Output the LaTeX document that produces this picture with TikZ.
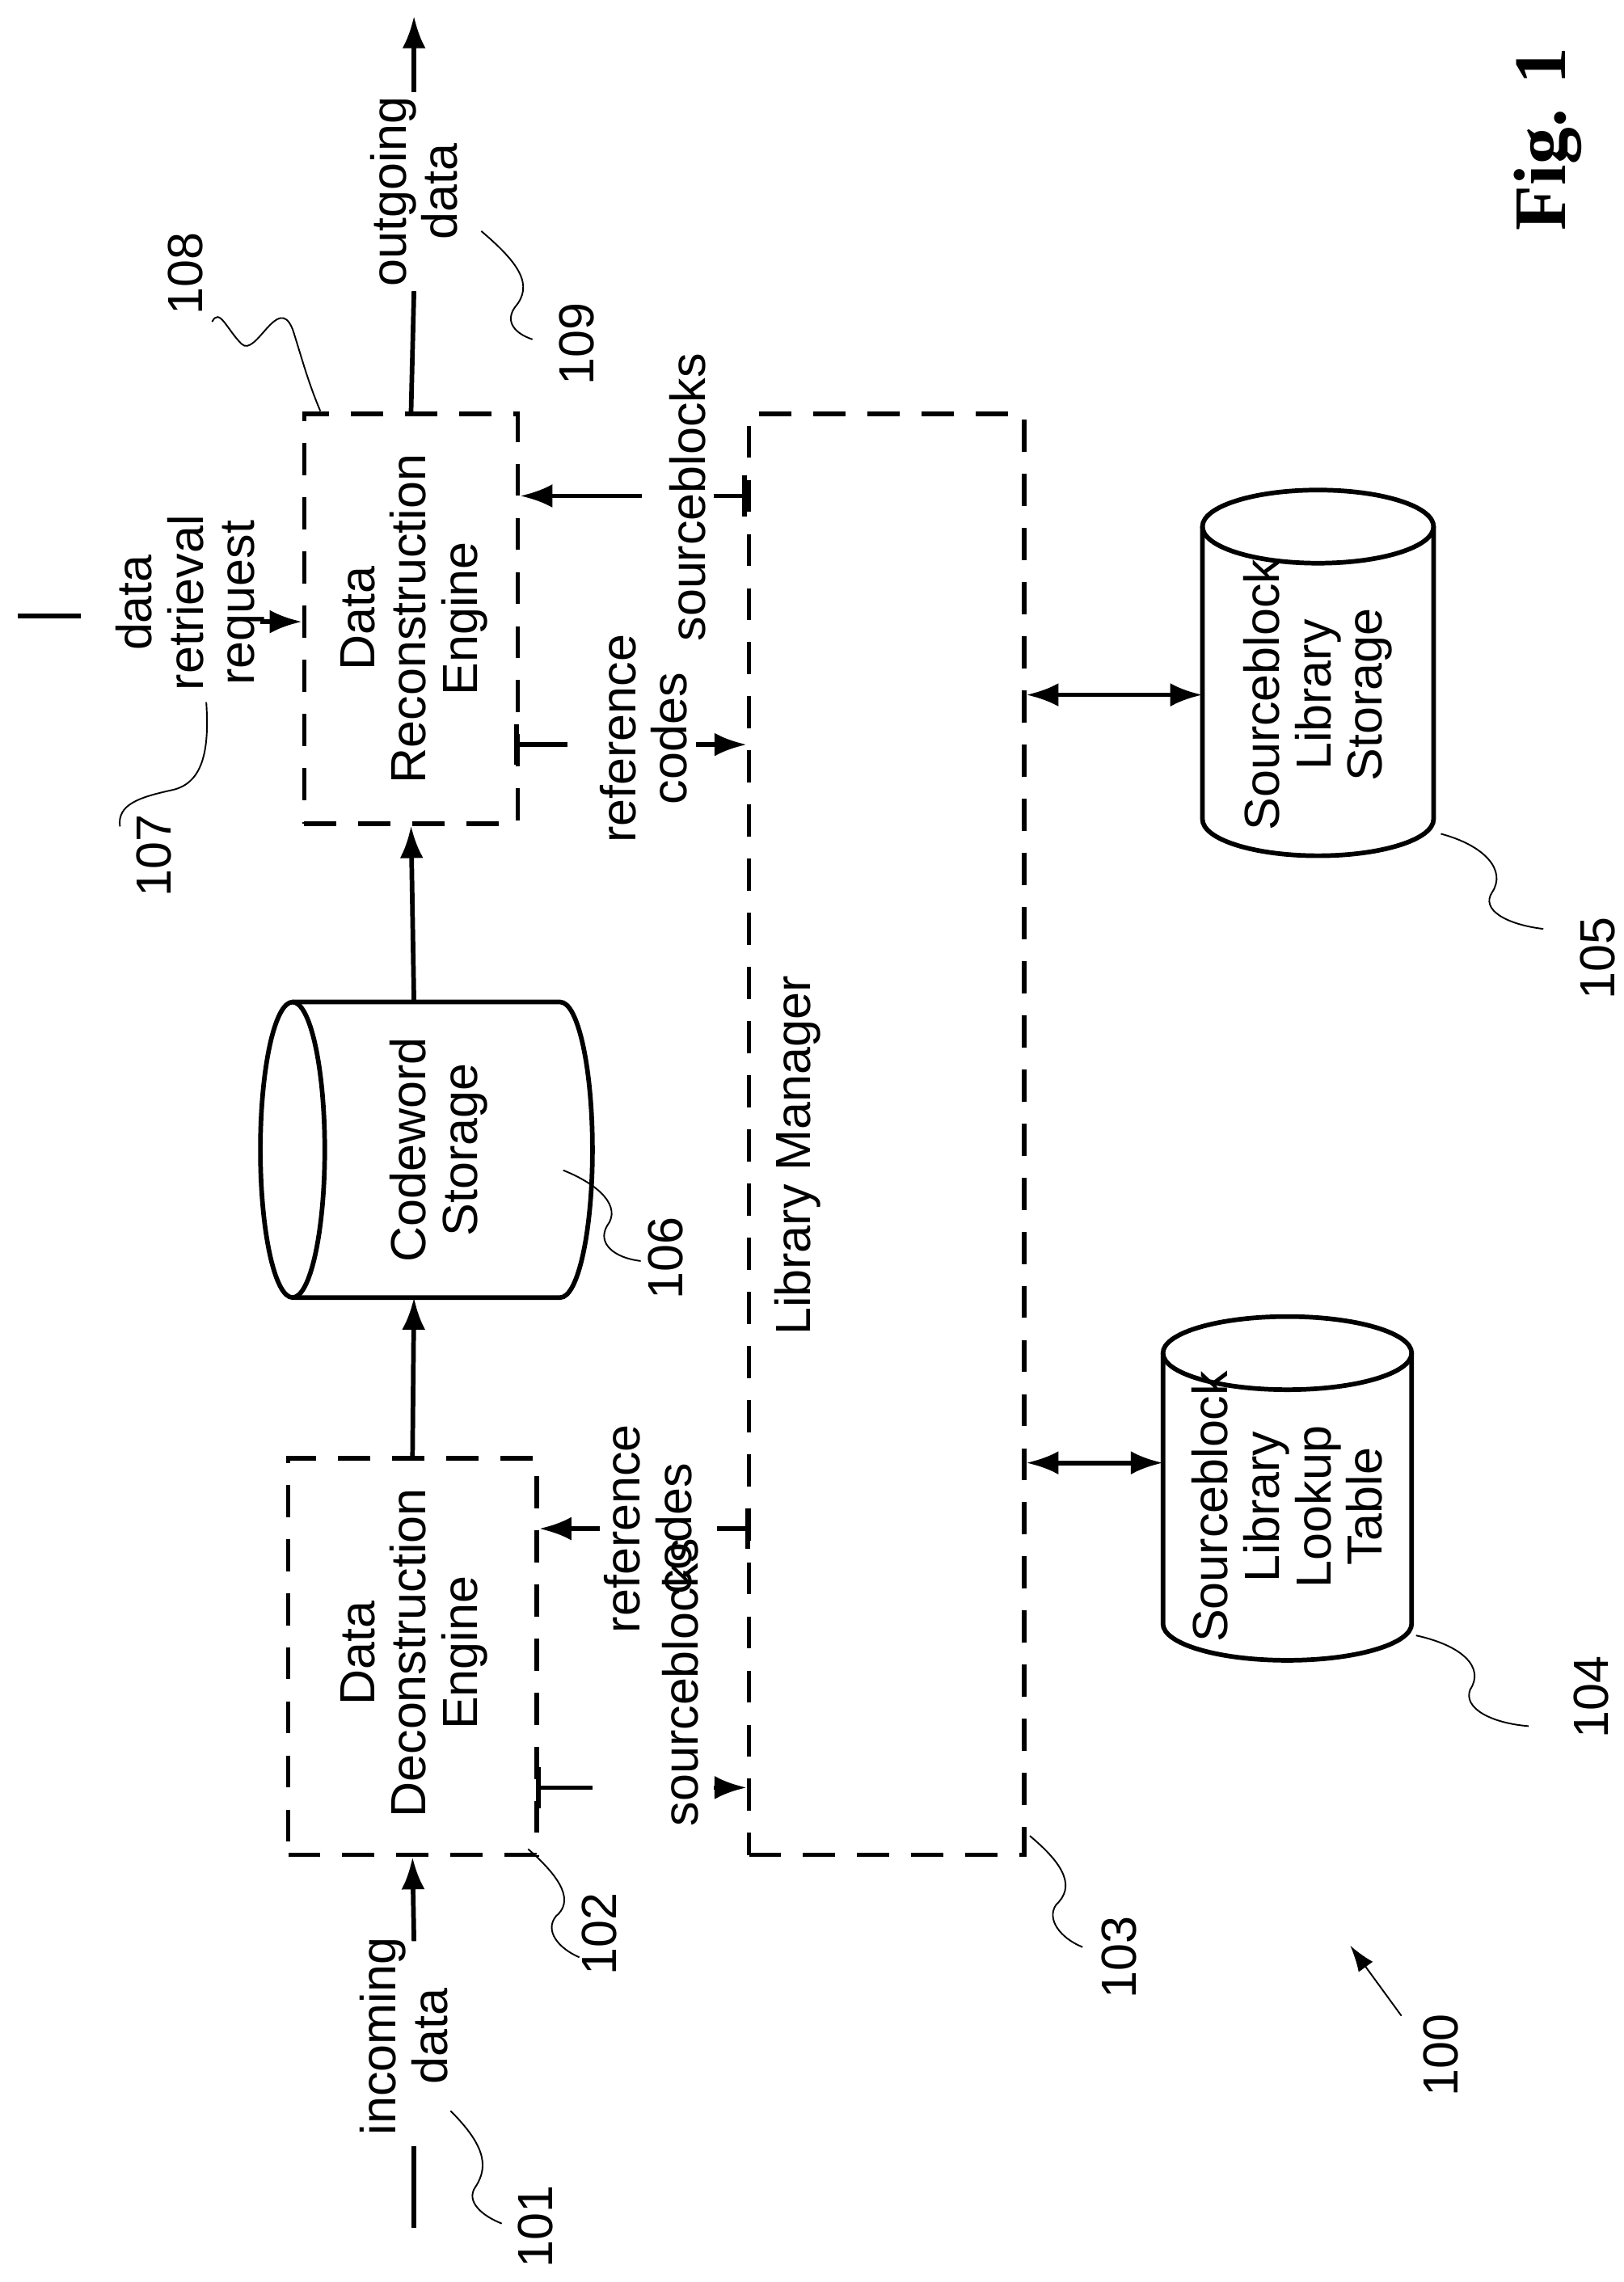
\documentclass[tikz,border=0pt]{standalone}
\usepackage{fontspec}
\setmainfont{Liberation Sans}
\newfontfamily\figfont{Liberation Serif}
\usetikzlibrary{arrows.meta}
\begin{document}
\begin{tikzpicture}[x=0.05cm,y=0.05cm,
  lbl/.style={rotate=90,align=center,font=\fontsize{48}{50}\selectfont,inner sep=0pt},
  box/.style={draw,line width=4.5pt,dash pattern=on 1.1cm off 0.75cm,inner sep=0pt},
  ln/.style={line width=4.5pt},
  arr/.style={line width=4.5pt,-{Latex[length=1.1cm,width=0.8cm]}},
  darr/.style={line width=4.5pt,{Latex[length=1.1cm,width=0.8cm]}-{Latex[length=1.1cm,width=0.8cm]}},
  cyl/.style={line width=4.5pt},
  sq/.style={line width=1.5pt}]
\useasboundingbox (0,0) rectangle (1110,-1560);
\fill[white] (0,0) rectangle (1110,-1560);

% boxes
\node[box,minimum width=8.5cm,minimum height=13.55cm] (dec) at (282,-1132.5) {};
\node[lbl] (dect) at (283,-1130) {Data\\Deconstruction\\Engine};
\node[box,minimum width=7.3cm,minimum height=14cm] (rec) at (281,-423) {};
\node[lbl] (rect) at (283,-423) {Data\\Reconstruction\\Engine};
\node[box,minimum width=9.4cm,minimum height=49.25cm] (lib) at (606,-775.5) {};
\node[lbl] (libt) at (545,-790) {Library Manager};

% codeword cylinder (cap left)
\draw[cyl] (200,-786) ellipse [x radius=22,y radius=101];
\draw[cyl] (200,-685) -- (383,-685) arc[start angle=90,end angle=-90,x radius=22,y radius=101] -- (200,-887);
\node[lbl] (cw) at (300,-786) {Codeword\\Storage};
\coordinate (cwL) at (283,-685);
\coordinate (cwR) at (283,-887);

% sourceblock library storage
\draw[cyl] (901,-360) ellipse [x radius=79,y radius=25];
\draw[cyl] (822,-360) -- (822,-560) arc[start angle=180,end angle=360,x radius=79,y radius=25] -- (980,-360);
\node[lbl] (sls) at (901,-475) {Sourceblock\\Library\\Storage};
\coordinate (slsL) at (822,-475);

% lookup table
\draw[cyl] (880,-925) ellipse [x radius=85,y radius=25];
\draw[cyl] (795,-925) -- (795,-1110) arc[start angle=180,end angle=360,x radius=85,y radius=25] -- (965,-925);
\node[lbl] (slt) at (880,-1030) {Sourceblock\\Library\\Lookup\\Table};
\coordinate (sltL) at (795,-1000);

% main flow
\coordinate (in1) at (283,-1523);
\coordinate (in2) at (283,-1467);
\coordinate (in3) at (283,-1327);
\draw[ln] (in1) -- (in2);
\node[lbl] (int) at (276,-1392) {incoming\\data};
\draw[arr] (in3) -- (dec.south);
\draw[arr] (dec.north) -- (cwR);
\draw[arr] (cwL) -- (rec.south);
\coordinate (o1) at (283,-199);
\coordinate (o2) at (283,-63);
\coordinate (o3) at (283,-11);
\draw[ln] (rec.north) -- (o1);
\node[lbl] (outt) at (283,-131) {outgoing\\data};
\draw[arr] (o2) -- (o3);

% retrieval request
\coordinate (r1) at (12,-421);
\coordinate (r2) at (55,-421);
\coordinate (r3) at (178,-425);
\draw[ln] (r1) -- (r2);
\node[lbl] (rrt) at (130,-412) {data\\retrieval\\request};
\draw[arr] (r3) -- (rec.west |- r3);

% reconstruction <-> library
\coordinate (a1) at (488,-339);
\coordinate (a2) at (439,-339);
\draw[ln] (lib.west |- a1) -- (a1);
\draw[ln] (a1)++(21,14) -- ++(0,-28);
\draw[arr] (a2) -- (rec.east |- a2);
\node[lbl] (sbt1) at (470,-340) {sourceblocks};
\coordinate (b1) at (388,-509);
\coordinate (b2) at (476,-509);
\draw[ln] (rec.east |- b1) -- (b1);
\draw[ln] (353,-495) -- (353,-523);
\draw[arr] (b2) -- (lib.west |- b2);
\node[lbl] (rct1) at (440,-505) {reference\\codes};

% deconstruction <-> library
\coordinate (c1) at (405,-1222);
\coordinate (c2) at (488,-1222);
\draw[ln] (dec.east |- c1) -- (c1);
\draw[ln] (368,-1208) -- (368,-1236);
\draw[arr] (c2) -- (lib.west |- c2);
\node[lbl] (sbt2) at (465,-1150) {sourceblocks};
\coordinate (d1) at (490,-1045);
\coordinate (d2) at (410,-1045);
\draw[ln] (lib.west |- d1) -- (d1);
\draw[ln] (511,-1031) -- (511,-1059);
\draw[arr] (d2) -- (dec.east |- d2);
\node[lbl] (rct2) at (443,-1045) {reference\\codes};

% library <-> storages
\draw[darr] (lib.east |- slsL) -- (slsL);
\draw[darr] (lib.east |- sltL) -- (sltL);

% reference numerals
\node[lbl] (n101) at (366,-1522) {101};
\draw[sq] (308,-1443) .. controls (330,-1465) and (335,-1480) .. (325,-1495) .. controls (318,-1505) and (330,-1515) .. (343,-1520);
\node[lbl] (n102) at (410,-1322) {102};
\draw[sq] (361,-1264) .. controls (385,-1285) and (392,-1300) .. (380,-1310) .. controls (372,-1320) and (382,-1332) .. (396,-1338);
\node[lbl] (n103) at (765,-1338) {103};
\draw[sq] (704,-1255) .. controls (728,-1275) and (735,-1290) .. (722,-1302) .. controls (715,-1312) and (725,-1325) .. (740,-1331);
\node[lbl] (n100) at (985,-1405) {100};
\coordinate (p100) at (958,-1378);
\draw[line width=1.5pt,-{Latex[length=0.9cm,width=0.6cm]}] (p100) -- (923,-1330);
\node[lbl] (n104) at (1088,-1160) {104};
\draw[sq] (968,-1118) .. controls (1000,-1125) and (1015,-1140) .. (1005,-1155) .. controls (1000,-1168) and (1020,-1178) .. (1045,-1180);
\node[lbl] (n105) at (1092,-655) {105};
\draw[sq] (985,-570) .. controls (1015,-578) and (1030,-595) .. (1020,-610) .. controls (1012,-622) and (1030,-632) .. (1055,-635);
\node[lbl] (n106) at (455,-860) {106};
\draw[sq] (385,-800) .. controls (410,-810) and (425,-825) .. (415,-838) .. controls (408,-850) and (420,-860) .. (438,-862);
\node[lbl] (n107) at (105,-585) {107};
\draw[sq] (141,-480) .. controls (143,-510) and (140,-535) .. (118,-540) .. controls (95,-545) and (80,-550) .. (82,-565);
\node[lbl] (n108) at (127,-187) {108};
\draw[sq] (219,-281) .. controls (210,-260) and (205,-240) .. (200,-225) .. controls (190,-200) and (175,-245) .. (165,-235) .. controls (155,-225) and (150,-210) .. (145,-220);
\node[lbl] (n109) at (394,-235) {109};
\draw[sq] (329,-158) .. controls (355,-180) and (365,-195) .. (352,-210) .. controls (345,-220) and (352,-228) .. (364,-232);

\node[rotate=90,font=\figfont\bfseries\fontsize{72}{72}\selectfont,inner sep=0pt] (fig) at (1058,-95) {Fig. 1};
\end{tikzpicture}
\end{document}
